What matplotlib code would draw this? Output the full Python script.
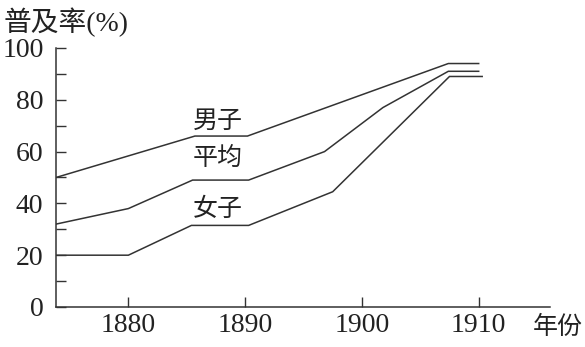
import matplotlib
matplotlib.use("Agg")
import matplotlib.pyplot as plt

# Data
men_years = [1873.8, 1885.7, 1890.2, 1907.4, 1910.0]
men_vals = [50, 66, 66, 94, 94]
avg_years = [1873.8, 1880.0, 1885.5, 1890.3, 1896.8, 1901.8, 1907.4, 1910.0]
avg_vals = [32, 38, 49, 49, 60, 77, 91, 91]
women_years = [1873.8, 1880.0, 1885.4, 1890.3, 1897.5, 1907.5, 1910.3]
women_vals = [20, 20, 31.5, 31.5, 44.5, 89, 89]

x_ticks = [1880, 1890, 1900, 1910]
y_ticks = [0, 20, 40, 60, 80, 100]
y_minor = [10, 30, 50, 70, 90]

labels = ["男子", "平均", "女子"]
label_pos = [(1885.5, 72), (1885.5, 57.5), (1885.5, 38)]

fam = ["Liberation Serif", "Noto Sans CJK SC"]
cjk = ["Noto Sans CJK SC", "Liberation Serif"]
col = "#333333"
tcol = "#222222"

fig = plt.figure(figsize=(5.85, 3.47), dpi=100)
ax = fig.add_axes([0.0957, 0.1153, 0.8443, 0.7464])

for xs, ys in [(men_years, men_vals), (avg_years, avg_vals), (women_years, women_vals)]:
    ax.plot(xs, ys, color=col, lw=1.1, solid_joinstyle="miter")

ax.set_xlim(1873.8, 1916.1)
ax.set_ylim(0, 100)
for s in ["top", "right"]:
    ax.spines[s].set_visible(False)
for s in ["left", "bottom"]:
    ax.spines[s].set_color(col)
    ax.spines[s].set_linewidth(1.1)

ax.set_xticks(x_ticks)
ax.set_xticklabels([str(t) for t in x_ticks], family=fam, fontsize=20)
ax.set_yticks(y_ticks)
ax.set_yticklabels([str(t) for t in y_ticks], family=fam, fontsize=20)
ax.set_yticks(y_minor, minor=True)
ax.tick_params(axis="both", which="both", direction="in", length=7.2, width=1.0,
               color=col, labelcolor=tcol)
ax.tick_params(axis="y", pad=9)
ax.tick_params(axis="x", pad=4)

for t, (x, y) in zip(labels, label_pos):
    ax.text(x, y, t, family=cjk, fontsize=18, color=tcol, ha="left", va="center")

fig.text(4 / 585, 1 - 22 / 347, "普及率(%)", family=fam, fontsize=20, color=tcol,
         ha="left", va="center")
fig.text(1 - 2 / 585, 1 - 327 / 347, "年份", family=cjk, fontsize=18, color=tcol,
         ha="right", va="center")

fig.savefig("out.png", dpi=100)
